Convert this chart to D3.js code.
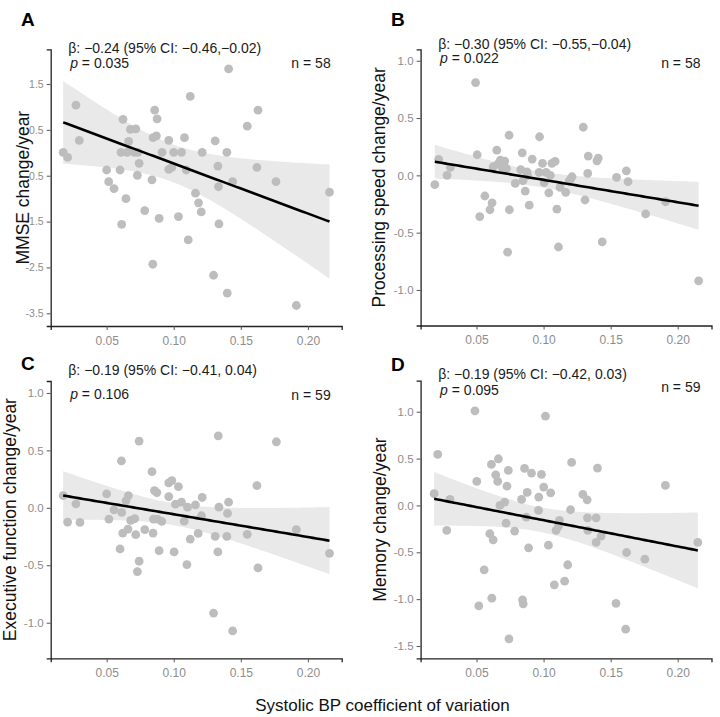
<!DOCTYPE html>
<html>
<head>
  <meta charset="utf-8">
  <script src="https://d3js.org/d3.v7.min.js"></script>
  <style>
    body { margin: 0; background: #fff; }
    svg { font-family: "Liberation Sans", Arial, sans-serif; }
    .tick-label { fill: #8c8c8c; }
    .axis-title { fill: #111; font-size: 17.5px; }
    .note { fill: #1a1a1a; font-size: 14px; }
    .panel-letter { fill: #000; font-size: 19px; font-weight: bold; }
  </style>
</head>
<body>
  <script>
    // Systolic BP coefficient of variation (x) and change/year (y) per panel
    const cvA = [0.0176, 0.0209, 0.0271, 0.0296, 0.0500, 0.0515, 0.0555, 0.0600, 0.0612, 0.0622,
                 0.0607, 0.0644, 0.0654, 0.0664, 0.0677, 0.0717, 0.0707, 0.0732, 0.0742, 0.0729,
                 0.0784, 0.0838, 0.0846, 0.0858, 0.0876, 0.0871, 0.0844, 0.0891, 0.0913, 0.0963,
                 0.0963, 0.0986, 0.1000, 0.1058, 0.1035, 0.1080, 0.1093, 0.1108, 0.1123, 0.1162,
                 0.1185, 0.1205, 0.1212, 0.1297, 0.1309, 0.1329, 0.1334, 0.1337, 0.1399, 0.1396,
                 0.1409, 0.1439, 0.1548, 0.1628, 0.1620, 0.1762, 0.1914, 0.2161];
    const mmseA = [0.01, -0.10, 1.04, 0.27, -0.375, -0.63, -0.78, -0.375, -1.56, 0.73,
                   0.01, -1.00, 0.01, 0.25, 0.51, 0.52, 0.01, 0.01, -0.23, -0.49,
                   -1.26, -0.59, 0.33, 0.93, 0.74, 0.37, -2.43, -1.43, 0.01, 0.27,
                   -0.36, -0.32, 0.01, 0.01, -1.39, 0.33, -0.375, -1.90, 1.23, -0.88,
                   -1.09, -1.29, 0.01, -2.67, 0.26, -0.29, -0.74, -1.55, -3.06, 0.01,
                   1.83, -0.63, 0.58, 0.93, -0.32, -0.63, -3.33, -0.86];

    const cvB = [0.0189, 0.0218, 0.0280, 0.0305, 0.0493, 0.0505, 0.0524, 0.0562, 0.0600, 0.0616,
                 0.0624, 0.0651, 0.0678, 0.0710, 0.0723, 0.0690, 0.0743, 0.0745, 0.0732, 0.0789,
                 0.0841, 0.0846, 0.0863, 0.0876, 0.0893, 0.0915, 0.0970, 0.0967, 0.0992, 0.1004,
                 0.1019, 0.1039, 0.1062, 0.1086, 0.1099, 0.1111, 0.1123, 0.1165, 0.1202, 0.1212,
                 0.1296, 0.1309, 0.1333, 0.1329, 0.1398, 0.1407, 0.1437, 0.1544, 0.1617, 0.1630,
                 0.1761, 0.1909, 0.2156, 0.0660, 0.0880, 0.1050, 0.1190, 0.0830];
    const speedB = [-0.08, 0.14, 0.00, 0.07, 0.81, 0.18, -0.36, -0.18, -0.30, -0.24,
                    0.075, 0.22, 0.133, 0.125, 0.06, 0.07, 0.35, -0.30, -0.67, -0.07,
                    0.197, -0.047, -0.137, 0.03, -0.26, 0.142, 0.337, 0.026, 0.105, -0.064,
                    0.026, -0.152, 0.105, 0.122, -0.294, -0.625, -0.105, -0.148, -0.03, -0.012,
                    0.42, -0.215, 0.168, 0.017, 0.127, 0.15, -0.58, -0.017, 0.04, -0.055,
                    -0.337, -0.23, -0.92, 0.10, 0.00, 0.00, -0.05, 0.05];

    const cvC = [0.0176, 0.0209, 0.0271, 0.0301, 0.0500, 0.0517, 0.0555, 0.0600, 0.0610, 0.0612,
                 0.0620, 0.0644, 0.0662, 0.0659, 0.0679, 0.0709, 0.0717, 0.0729, 0.0742, 0.0742,
                 0.0784, 0.0838, 0.0846, 0.0849, 0.0856, 0.0874, 0.0879, 0.0891, 0.0911, 0.0963,
                 0.0963, 0.0986, 0.1003, 0.1013, 0.1035, 0.1058, 0.1078, 0.1098, 0.1103, 0.1123,
                 0.1162, 0.1182, 0.1207, 0.1212, 0.1309, 0.1297, 0.1332, 0.1329, 0.1337, 0.1396,
                 0.1401, 0.1409, 0.1439, 0.1548, 0.1620, 0.1628, 0.1765, 0.1914, 0.2161];
    const execC = [0.107, -0.124, 0.035, -0.127, 0.121, -0.098, -0.017, -0.358, 0.408, -0.040,
                   -0.22, 0.061, 0.107, -0.185, -0.110, -0.095, -0.234, -0.555, 0.581, -0.465,
                   -0.19, 0.315, -0.22, -0.098, 0.15, 0.133, -0.098, -0.373, -0.118, 0.217,
                   0.098, 0.237, -0.384, 0.032, 0.185, 0.049, -0.116, -0.494, 0.006, -0.272,
                   0.026, -0.223, -0.069, 0.09, -0.249, -0.916, 0.627, -0.384, 0.006, -0.249,
                   -0.049, 0.049, -1.072, -0.231, 0.194, -0.523, 0.575, -0.19, -0.396];

    const cvD = [0.0184, 0.0211, 0.0278, 0.0302, 0.0488, 0.0502, 0.0517, 0.0557, 0.0599, 0.0611,
                 0.0614, 0.0624, 0.0643, 0.0663, 0.0658, 0.0675, 0.0710, 0.0720, 0.0727, 0.0737,
                 0.0742, 0.0784, 0.0836, 0.0843, 0.0848, 0.0858, 0.0871, 0.0878, 0.0888, 0.0910,
                 0.0962, 0.0964, 0.0984, 0.1001, 0.1014, 0.1053, 0.1036, 0.1080, 0.1093, 0.1118,
                 0.1111, 0.1157, 0.1180, 0.1201, 0.1209, 0.1293, 0.1325, 0.1327, 0.1330, 0.1392,
                 0.1392, 0.1402, 0.1429, 0.1540, 0.1619, 0.1612, 0.1755, 0.1908, 0.2150];
    const memoryD = [0.125, 0.545, -0.267, 0.064, 1.01, 0.256, -1.071, -0.687, -0.302, 0.438,
                     -0.989, -0.367, 0.327, 0.498, 0.256, 0.0, 0.036, -0.189, 0.206, 0.374,
                     -1.423, -0.274, 0.064, -1.007, -1.05, 0.395, -0.125, 0.139, -0.452, 0.345,
                     -0.053, 0.089, 0.331, 0.196, 0.954, 0.135, -0.424, -0.847, -0.267, -0.16,
                     -0.22, -0.808, -0.633, -0.046, 0.459, 0.117, 0.06, -0.132, -0.267, -0.132,
                     -0.395, 0.399, -0.327, -1.046, -0.502, -1.32, -0.573, 0.214, -0.395];

    // Fitted (adjusted) line: value at the smallest and the largest CV
    const fitA = [0.664, -1.50];
    const fitB = [0.119, -0.265];
    const fitC = [0.107, -0.286];
    const fitD = [0.071, -0.480];
    // Half width of the 95% band at the smallest and the largest CV
    const bandA = [0.897, 1.255];
    const bandB = [0.150, 0.205];
    const bandC = [0.208, 0.298];
    const bandD = [0.290, 0.400];

    // Tick labels
    const xTicks = [0.05, 0.10, 0.15, 0.20];
    const yTicksA = [1.5, 0.5, -0.5, -1.5, -2.5, -3.5];
    const yTicksBC = [1.0, 0.5, 0.0, -0.5, -1.0];
    const yTicksD = [1.0, 0.5, 0.0, -0.5, -1.0, -1.5];

    // Annotation texts
    const betaTexts = ["β: −0.24 (95% CI: −0.46,−0.02)", "β: −0.30 (95% CI: −0.55,−0.04)",
                       "β: −0.19 (95% CI: −0.41, 0.04)", "β: −0.19 (95% CI: −0.42, 0.03)"];
    const pValues = ["0.035", "0.022", "0.106", "0.095"];
    const yTitles = ["MMSE change/year", "Processing speed change/year",
                     "Executive function change/year", "Memory change/year"];
    const letters = ["A", "B", "C", "D"];

    const width = 720, height = 717;

    // layout of the four panels (plot area in px)
    const panels = [
      { xs: cvA, ys: mmseA, fit: fitA, band: bandA, ticks: yTicksA, yDom: [-3.777, 2.257],
        l: 50.7, r: 341.7, t: 49.3, b: 326, tickFont: 10.5,
        letter: [21, 25.5], beta: 52.5, p: 67.5, n: 67.5, titleX: 23 },
      { xs: cvB, ys: speedB, fit: fitB, band: bandB, ticks: yTicksBC, yDom: [-1.31, 1.10],
        l: 420.6, r: 711.5, t: 49.3, b: 325.5, tickFont: 11.5,
        letter: [391, 25.5], beta: 48.5, p: 63, n: 67.5, titleX: 378.5 },
      { xs: cvC, ys: execC, fit: fitC, band: bandC, ticks: yTicksBC, yDom: [-1.31, 1.104],
        l: 50.7, r: 341.7, t: 381, b: 658.3, tickFont: 11.5,
        letter: [21, 370], beta: 374.5, p: 398.5, n: 399.5, titleX: 10 },
      { xs: cvD, ys: memoryD, fit: fitD, band: bandD, ticks: yTicksD, yDom: [-1.631, 1.331],
        l: 420.6, r: 711.5, t: 380.7, b: 658.3, tickFont: 11.5,
        letter: [391, 371], beta: 378.5, p: 394.5, n: 391.5, titleX: 380 }
    ];

    const svg = d3.select("body").append("svg")
      .attr("width", width)
      .attr("height", height);

    // fitted line and a confidence band of the usual linear-model shape
    function fitCurve(p) {
      const n = p.xs.length;
      const mx = d3.mean(p.xs);
      const sxx = d3.sum(p.xs, v => (v - mx) ** 2);
      const shape = v => Math.sqrt(1 / n + (v - mx) ** 2 / sxx);
      const [x0, x1] = d3.extent(p.xs);
      const k = (p.band[0] / shape(x0) + p.band[1] / shape(x1)) / 2;
      const line = d3.scaleLinear().domain([x0, x1]).range(p.fit);
      return d3.range(81).map(j => {
        const v = x0 + (x1 - x0) * j / 80;
        const f = line(v), w = k * shape(v);
        return { x: v, fit: f, lo: f - w, hi: f + w };
      });
    }

    panels.forEach((p, i) => {
      const x = d3.scaleLinear().domain([0.0083, 0.2252]).range([p.l, p.r]);
      const y = d3.scaleLinear().domain(p.yDom).range([p.b, p.t]);
      const g = svg.append("g");
      const curve = fitCurve(p);

      // confidence band
      g.append("path")
        .datum(curve)
        .attr("fill", "#e9e9e9")
        .attr("d", d3.area().x(d => x(d.x)).y0(d => y(d.lo)).y1(d => y(d.hi)));

      // points
      g.selectAll("circle")
        .data(p.xs.map((v, k) => [v, p.ys[k]]))
        .join("circle")
        .attr("cx", d => x(d[0]))
        .attr("cy", d => y(d[1]))
        .attr("r", 4.4)
        .attr("fill", "#bdbdbd");

      // regression line
      g.append("path")
        .datum(curve)
        .attr("fill", "none")
        .attr("stroke", "#000")
        .attr("stroke-width", 2.6)
        .attr("d", d3.line().x(d => x(d.x)).y(d => y(d.fit)));

      // axes
      const xAxis = g.append("g")
        .attr("transform", `translate(0,${p.b})`)
        .call(d3.axisBottom(x).tickValues(xTicks).tickFormat(d3.format(".2f"))
          .tickSizeOuter(0).tickSize(4).tickPadding(6));
      const yAxis = g.append("g")
        .attr("transform", `translate(${p.l},0)`)
        .call(d3.axisLeft(y).tickValues(p.ticks).tickFormat(d => d3.format(".1f")(d).replace("−", "-"))
          .tickSizeOuter(0).tickSize(4).tickPadding(3));
      [xAxis, yAxis].forEach(a => {
        a.attr("font-family", null).attr("font-size", null);
        a.select(".domain").attr("stroke", "#222").attr("stroke-width", 1.3);
        a.selectAll(".tick line").attr("stroke", "#555").attr("stroke-width", 1);
        a.selectAll(".tick text").attr("class", "tick-label");
      });
      xAxis.selectAll(".tick text").style("font-size", "12px");
      yAxis.selectAll(".tick text").style("font-size", p.tickFont + "px");

      // y title
      svg.append("text")
        .attr("class", "axis-title")
        .attr("transform", `translate(${p.titleX},${(p.t + p.b) / 2}) rotate(-90)`)
        .attr("text-anchor", "middle")
        .attr("dy", "0.35em")
        .text(yTitles[i]);

      // panel letter
      svg.append("text")
        .attr("class", "panel-letter")
        .attr("x", p.letter[0])
        .attr("y", p.letter[1])
        .text(letters[i]);

      // annotations
      svg.append("text")
        .attr("class", "note")
        .attr("x", p.l + 17.6)
        .attr("y", p.beta)
        .text(betaTexts[i]);
      const pt = svg.append("text")
        .attr("class", "note")
        .attr("x", p.l + 19.5)
        .attr("y", p.p);
      pt.append("tspan").attr("font-style", "italic").text("p");
      pt.append("tspan").text(" = " + pValues[i]);
      svg.append("text")
        .attr("class", "note")
        .attr("x", p.r - 11)
        .attr("y", p.n)
        .attr("text-anchor", "end")
        .text("n = " + p.xs.length);
    });

    // shared x title
    svg.append("text")
      .attr("class", "axis-title")
      .attr("x", 382.5)
      .attr("y", 711)
      .attr("text-anchor", "middle")
      .style("font-size", "17px")
      .text("Systolic BP coefficient of variation");
  </script>
</body>
</html>
